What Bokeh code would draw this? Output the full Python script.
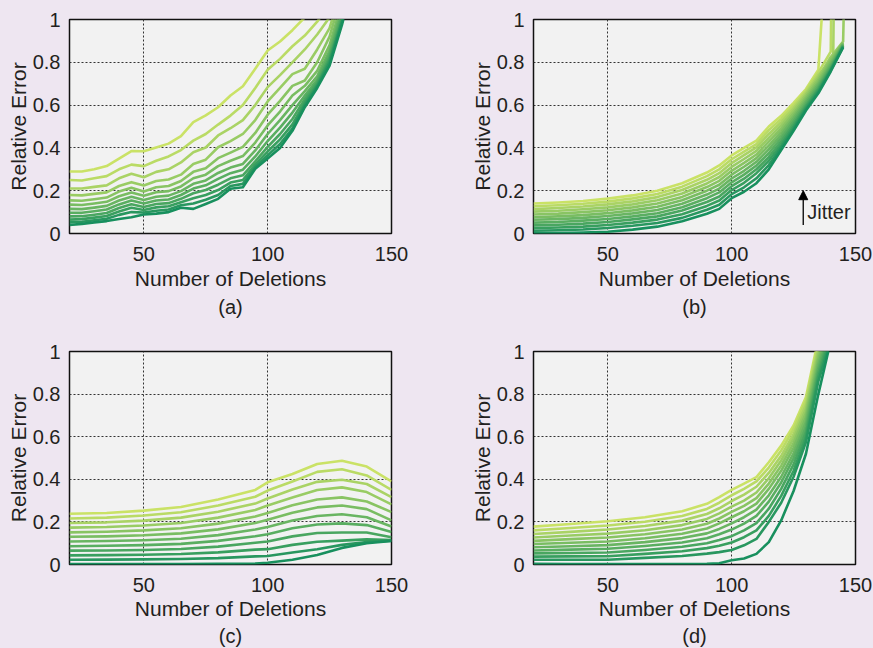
import numpy as np
from bokeh.plotting import figure
from bokeh.models import Range1d, FixedTicker, Title, Arrow, NormalHead, Label
from bokeh.layouts import column, row
from bokeh.embed import file_html
from bokeh.resources import INLINE

# ---------------- data ----------------
X_TICKS = [50, 100, 150]
Y_TICKS = [0.0, 0.2, 0.4, 0.6, 0.8, 1.0]
Y_TICK_LABELS = ["0", "0.2", "0.4", "0.6", "0.8", "1"]
X_LABEL = "Number of Deletions"
Y_LABEL = "Relative Error"
CAPTIONS = ["(a)", "(b)", "(c)", "(d)"]
JITTER_TEXT = "Jitter"
JITTER_X = 128.9
JITTER_Y0 = 0.04
JITTER_Y1 = 0.20

A_X = [20, 25, 30, 35, 40, 45, 50, 55, 60, 65, 70, 75, 80, 85, 90, 95, 100, 105, 110, 115, 120, 125, 130, 135]
A_LINES = [
    [.290, .290, .300, .315, .350, .385, .384, .402, .420, .455, .520, .552, .590, .645, .688, .770, .855, .897, .950, 1.01],
    [.250, .248, .258, .268, .300, .322, .315, .340, .360, .390, .434, .465, .509, .551, .600, .680, .765, .816, .875, .925, .990, 1.07],
    [.210, .210, .218, .225, .258, .279, .263, .288, .300, .332, .380, .402, .458, .492, .530, .600, .684, .740, .800, .860, .930, 1.01],
    [.180, .178, .185, .192, .222, .240, .224, .245, .252, .275, .325, .345, .403, .432, .465, .530, .617, .680, .745, .770, .860, .960, 1.15],
    [.155, .153, .160, .168, .196, .214, .196, .216, .222, .245, .288, .305, .352, .378, .405, .470, .555, .620, .690, .715, .800, .920, 1.12],
    [.135, .133, .140, .148, .174, .192, .176, .193, .198, .220, .258, .275, .315, .340, .362, .425, .505, .570, .645, .690, .760, .880, 1.08],
    [.115, .114, .121, .129, .154, .172, .157, .172, .177, .198, .232, .248, .283, .308, .325, .388, .465, .530, .600, .665, .735, .855, 1.05],
    [.097, .097, .104, .112, .136, .154, .140, .154, .159, .180, .210, .225, .255, .282, .298, .360, .432, .495, .565, .645, .718, .838, 1.03],
    [.080, .081, .088, .096, .119, .137, .124, .138, .142, .162, .188, .203, .228, .258, .272, .337, .405, .465, .535, .628, .705, .822, 1.01],
    [.065, .067, .074, .082, .103, .120, .110, .122, .127, .146, .165, .180, .203, .238, .250, .322, .383, .440, .510, .612, .695, .810, .995, 1.2],
    [.052, .055, .062, .069, .087, .100, .098, .106, .112, .132, .140, .158, .180, .222, .232, .310, .365, .418, .490, .600, .688, .798, .990, 1.2],
    [.040, .045, .052, .058, .068, .076, .089, .093, .100, .120, .115, .138, .162, .209, .216, .302, .350, .400, .480, .590, .680, .785, .975, 1.2],
]

B_X = [20, 30, 40, 50, 60, 70, 80, 90, 95, 100, 105, 110, 115, 120, 125, 130, 135, 140, 145]
B_LINES = [
    [.140, .145, .152, .163, .178, .200, .235, .285, .318, .365, .400, .434, .500, .550, .610, .675, .765],
    [.127, .132, .139, .149, .164, .185, .219, .268, .300, .347, .383, .418, .483, .535, .597, .667, .752, .850],
    [.114, .119, .126, .136, .150, .170, .203, .251, .282, .329, .366, .402, .465, .520, .585, .657, .740, .805],
    [.102, .106, .113, .122, .136, .155, .187, .234, .264, .311, .348, .386, .447, .505, .573, .648, .729, .825, .897],
    [.089, .093, .100, .109, .122, .140, .171, .217, .246, .293, .330, .369, .429, .490, .561, .638, .718, .812, .893],
    [.076, .080, .086, .095, .108, .125, .155, .200, .228, .275, .312, .352, .411, .475, .549, .628, .707, .800, .889],
    [.064, .067, .073, .082, .094, .110, .139, .182, .210, .257, .293, .335, .393, .460, .537, .618, .697, .790, .885],
    [.051, .054, .060, .068, .080, .095, .123, .165, .192, .239, .275, .318, .375, .445, .525, .608, .687, .781, .881],
    [.038, .041, .046, .054, .066, .080, .107, .147, .173, .221, .256, .300, .357, .430, .512, .598, .678, .773, .878],
    [.025, .028, .032, .040, .051, .065, .090, .129, .154, .203, .237, .282, .340, .415, .500, .590, .670, .767, .875],
    [.013, .015, .019, .026, .036, .049, .073, .111, .134, .184, .216, .258, .320, .402, .490, .582, .662, .762, .872],
    [.002, .002, .004, .008, .018, .032, .057, .092, .115, .165, .195, .235, .300, .390, .480, .575, .655, .757, .870],
]
B_TAIL_X = [[136.6], [140.2], [141.0, 141.2], [145.3], [], [], [], [], [], [], [], []]
B_TAIL_Y = [[1.05], [1.05], [0.815, 1.05], [1.05], [], [], [], [], [], [], [], []]

C_X = [20, 35, 50, 65, 80, 95, 100, 110, 120, 130, 140, 150]
C_LINES = [
    [.238, .242, .253, .270, .305, .350, .386, .425, .472, .487, .460, .390],
    [.216, .220, .230, .245, .277, .318, .347, .390, .435, .447, .418, .350],
    [.195, .198, .206, .220, .248, .286, .310, .352, .388, .398, .378, .316],
    [.173, .176, .183, .195, .220, .256, .277, .315, .350, .362, .340, .282],
    [.151, .154, .160, .170, .192, .225, .242, .278, .305, .315, .296, .246],
    [.130, .132, .137, .146, .165, .195, .210, .243, .268, .277, .260, .207],
    [.108, .110, .114, .121, .138, .164, .176, .207, .228, .236, .222, .178],
    [.086, .088, .091, .097, .111, .133, .142, .170, .188, .193, .185, .152],
    [.065, .066, .068, .073, .084, .102, .108, .132, .148, .150, .150, .128],
    [.043, .044, .046, .049, .057, .070, .072, .092, .107, .112, .118, .115],
    [.022, .023, .024, .026, .030, .038, .040, .056, .072, .092, .105, .112],
    [.002, .002, .002, .002, .003, .005, .008, .022, .045, .078, .100, .110],
]

D_X = [20, 35, 50, 65, 80, 90, 95, 100, 105, 110, 115, 120, 125, 130, 135, 140]
D_LINES = [
    [.178, .190, .203, .222, .250, .285, .316, .350, .380, .410, .480, .558, .653, .786, 1.06, 1.25],
    [.160, .171, .183, .201, .228, .261, .290, .325, .355, .390, .455, .535, .635, .770, 1.04, 1.23],
    [.143, .153, .164, .181, .206, .237, .264, .298, .328, .365, .430, .510, .612, .750, 1.02, 1.21],
    [.127, .136, .145, .161, .185, .214, .240, .272, .300, .338, .405, .488, .592, .730, 1.00, 1.19],
    [.111, .119, .127, .142, .164, .191, .216, .247, .275, .312, .380, .464, .570, .710, .980, 1.17],
    [.096, .102, .108, .123, .144, .169, .193, .222, .250, .286, .355, .440, .548, .690, .960, 1.15],
    [.081, .086, .091, .105, .124, .146, .167, .193, .222, .258, .325, .412, .522, .668, .940, 1.13],
    [.066, .070, .074, .087, .103, .123, .142, .164, .192, .228, .295, .385, .498, .645, .920, 1.11],
    [.052, .054, .056, .068, .083, .100, .115, .133, .160, .194, .262, .355, .470, .622, .900, 1.09],
    [.037, .038, .039, .050, .062, .077, .088, .103, .128, .160, .228, .322, .440, .598, .880, 1.07],
    [.022, .022, .022, .031, .040, .051, .058, .068, .090, .120, .200, .290, .412, .575, .860, 1.05],
    [.003, .002, .002, .002, .002, .003, .006, .020, .028, .050, .105, .207, .345, .520, .800, 1.05],
]

# ---------------- style ----------------
BG = "#EEE6F1"
PLOT_BG = "#F2F2F2"
TXT = "#231F20"
FONT = "Liberation Sans"
LIGHT = np.array([202, 226, 102])
DARK = np.array([24, 144, 94])


def palette(n):
    cols = []
    for i in range(n):
        t = i / (n - 1)
        c = LIGHT + (DARK - LIGHT) * t
        cols.append("#%02x%02x%02x" % tuple(int(round(v)) for v in c))
    return cols


def make_panel(xs, lines, caption, width, height, left, right, top, bottom,
               tails_x=None, tails_y=None, cap_standoff=3, label_standoff=3):
    p = figure(width=width, height=height,
               x_range=Range1d(20, 150), y_range=Range1d(0, 1),
               output_backend="svg", toolbar_location=None,
               min_border_left=left, min_border_right=right,
               min_border_top=top, min_border_bottom=bottom)
    p.background_fill_color = PLOT_BG
    p.border_fill_color = BG
    p.outline_line_color = "#111111"
    p.outline_line_width = 1.5

    p.xaxis.ticker = FixedTicker(ticks=X_TICKS)
    p.yaxis.ticker = FixedTicker(ticks=Y_TICKS)
    p.yaxis.major_label_overrides = dict(zip(Y_TICKS, Y_TICK_LABELS))
    p.xaxis.axis_label = X_LABEL
    p.yaxis.axis_label = Y_LABEL
    for ax in (p.xaxis[0], p.yaxis[0]):
        ax.axis_line_color = None
        ax.major_tick_line_color = None
        ax.minor_tick_line_color = None
        ax.major_label_text_font = FONT
        ax.major_label_text_font_size = "20px"
        ax.major_label_text_color = TXT
        ax.axis_label_text_font = FONT
        ax.axis_label_text_font_size = "21px"
        ax.axis_label_text_font_style = "normal"
        ax.axis_label_text_color = TXT
    p.xaxis.major_label_standoff = 7
    p.xaxis.axis_label_standoff = label_standoff
    p.yaxis.major_label_standoff = 3
    p.yaxis.axis_label_standoff = 0

    for g in (p.xgrid[0], p.ygrid[0]):
        g.grid_line_color = "#333333"
        g.grid_line_dash = "2 2"
        g.grid_line_width = 1
    p.xgrid.ticker = FixedTicker(ticks=X_TICKS)
    p.ygrid.ticker = FixedTicker(ticks=Y_TICKS)

    cols = palette(len(lines))
    for i, ys in enumerate(lines):
        xx = list(xs[:len(ys)])
        yy = list(ys)
        if tails_x is not None:
            xx += tails_x[i]
            yy += tails_y[i]
        p.line(xx, yy, line_color=cols[i], line_width=2.6, line_join="round")

    p.add_layout(Title(text=caption, align="center", text_font=FONT,
                       text_font_size="20px", text_font_style="normal",
                       text_color=TXT, standoff=cap_standoff), "below")
    return p


pa = make_panel(A_X, A_LINES, CAPTIONS[0], 464, 332, 69, 73, 19, 99)
pb = make_panel(B_X, B_LINES, CAPTIONS[1], 408, 332, 69, 17, 19, 99,
                B_TAIL_X, B_TAIL_Y)
pc = make_panel(C_X, C_LINES, CAPTIONS[2], 464, 315, 69, 73, 19, 83,
                cap_standoff=0, label_standoff=2)
pd = make_panel(D_X, D_LINES, CAPTIONS[3], 408, 315, 69, 17, 19, 83,
                cap_standoff=0, label_standoff=2)

pb.add_layout(Arrow(end=NormalHead(size=9, fill_color="black", line_color="black"),
                    x_start=JITTER_X, y_start=JITTER_Y0, x_end=JITTER_X, y_end=JITTER_Y1,
                    line_color="black", line_width=1.3))
pb.add_layout(Label(x=JITTER_X, y=(JITTER_Y0 + JITTER_Y1) / 2 - 0.02, text=JITTER_TEXT,
                    x_offset=4, text_font=FONT, text_font_size="20px",
                    text_color=TXT, text_baseline="middle", text_align="left"))

layout = column(row(pa, pb), row(pc, pd))
layout.background = BG

html = file_html(layout, INLINE)
html = html.replace("</head>", "<style>html, body { background-color: %s; }</style></head>" % BG, 1)
open("out.html", "w").write(html)
